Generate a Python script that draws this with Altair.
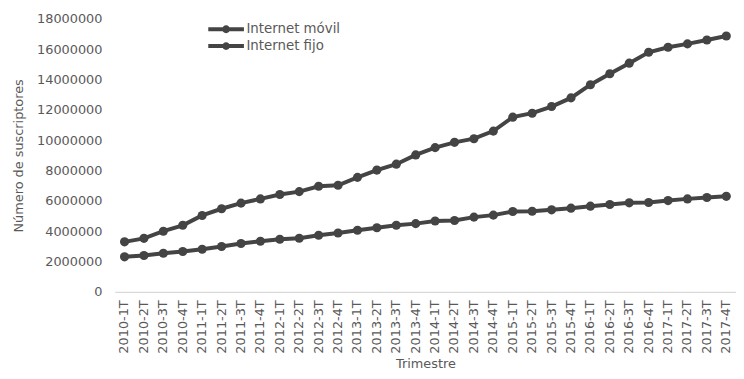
import altair as alt
import pandas as pd

quarters = [f"{y}-{q}T" for y in range(2010, 2018) for q in range(1, 5)]

movil = [3300000, 3530000, 4000000, 4390000, 5040000, 5480000, 5850000, 6130000,
         6420000, 6610000, 6960000, 7030000, 7550000, 8030000, 8420000, 9030000,
         9510000, 9860000, 10100000, 10600000, 11520000, 11780000, 12220000, 12790000,
         13660000, 14380000, 15080000, 15800000, 16130000, 16350000, 16610000, 16870000]

fijo = [2310000, 2400000, 2550000, 2660000, 2810000, 2990000, 3190000, 3340000,
        3470000, 3540000, 3730000, 3880000, 4060000, 4230000, 4390000, 4500000,
        4670000, 4710000, 4930000, 5060000, 5300000, 5320000, 5410000, 5520000,
        5650000, 5760000, 5870000, 5890000, 6020000, 6130000, 6220000, 6300000]

series_names = ["Internet móvil", "Internet fijo"]

rows = []
for i, q in enumerate(quarters):
    rows.append({"Trimestre": q, "serie": series_names[0], "valor": movil[i]})
    rows.append({"Trimestre": q, "serie": series_names[1], "valor": fijo[i]})
df = pd.DataFrame(rows)

FONT = "DejaVu Sans"
TXT = "#595959"
LINE = "#444444"

x = alt.X("Trimestre:N", sort=quarters, title="Trimestre",
          scale=alt.Scale(type="band", paddingInner=0, paddingOuter=0),
          axis=alt.Axis(labelAngle=-90, labelPadding=8, ticks=False,
                        domainColor="#d9d9d9", domainWidth=1.5, grid=False,
                        titlePadding=4))
y = alt.Y("valor:Q", title="Número de suscriptores",
          scale=alt.Scale(domain=[0, 18000000]),
          axis=alt.Axis(values=list(range(0, 18000001, 2000000)), format="d",
                        domain=False, ticks=False, grid=False, labelPadding=13,
                        titlePadding=11))
color = alt.Color("serie:N", sort=series_names,
                  scale=alt.Scale(domain=series_names, range=[LINE, LINE]),
                  legend=alt.Legend(title=None, orient="none", legendX=94, legendY=2,
                                    symbolType="M -1 -0.11 H 1 V 0.11 H -1 Z M -0.22 0 A 0.22 0.22 0 1 1 0.22 0 A 0.22 0.22 0 1 1 -0.22 0 Z",
                                    symbolSize=1300, symbolStrokeWidth=0,
                                    symbolFillColor=LINE, rowPadding=0, clipHeight=17,
                                    labelFontSize=13.5, labelColor=TXT, labelFont=FONT,
                                    labelOffset=2))

lines = alt.Chart(df).mark_line(strokeWidth=4).encode(x=x, y=y, color=color,
                                                      detail="serie:N")
points = alt.Chart(df).mark_point(filled=True, size=85, opacity=1).encode(
    x=x, y=y, color=color)

chart = alt.layer(lines, points).properties(
    width=628, height=276,
    padding={"left": 108, "top": 9, "right": 0, "bottom": 78},
    autosize="none",
).configure_view(stroke=None).configure_axis(
    labelFont=FONT, titleFont=FONT, labelFontSize=13, titleFontSize=13,
    labelColor=TXT, titleColor=TXT, titleFontWeight="normal",
)

chart.save("out.html", embed_options={"renderer": "svg", "actions": False})
